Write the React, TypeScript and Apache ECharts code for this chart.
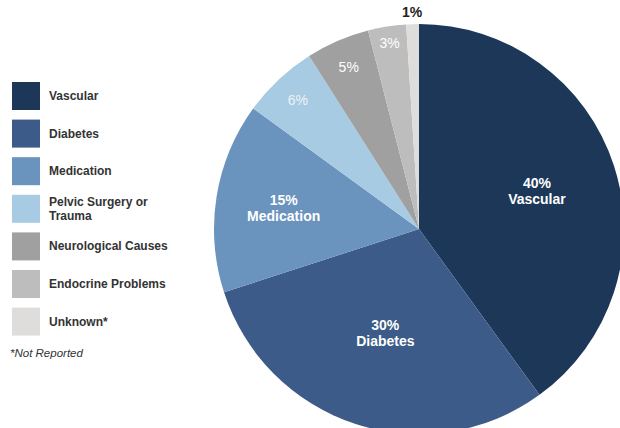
import React, { useEffect, useRef } from "react";
import * as echarts from "echarts";

const categories = [
  "Vascular",
  "Diabetes",
  "Medication",
  "Pelvic Surgery or\nTrauma",
  "Neurological Causes",
  "Endocrine Problems",
  "Unknown*",
];
const shortNames = ["Vascular", "Diabetes", "Medication", "", "", "", ""];
const values = [40, 30, 15, 6, 5, 3, 1];
const colors = ["#1d3759", "#3c5b88", "#6a93bd", "#a6cbe2", "#a0a0a0", "#bdbdbd", "#dedddb"];
const footnote = "*Not Reported";

const FONT = 'Arial, "Liberation Sans", Helvetica, sans-serif';
const CENTER = [419, 229];
const R = 205;

// label groups: which slices get labels at which radial distance (radius of invisible pie = 2x label distance)
const labelGroups = [
  { idx: [0], radius: 242, color: "#ffffff", weight: "bold", withName: true },
  { idx: [1], radius: 212, color: "#ffffff", weight: "bold", withName: true },
  { idx: [2], radius: 268, color: "#ffffff", weight: "bold", withName: true },
  { idx: [3], radius: 348, color: "#eef3f7", weight: "normal", withName: false },
  { idx: [4], radius: 348, color: "#ffffff", weight: "normal", withName: false },
  { idx: [5], radius: 370, color: "#ffffff", weight: "normal", withName: false },
  { idx: [6], radius: 428, color: "#222222", weight: "bold", withName: false },
];

export default function App() {
  const ref = useRef<HTMLDivElement>(null);
  useEffect(() => {
    if (!ref.current) return;
    const chart = echarts.init(ref.current, undefined, { renderer: "svg" });

    const mainData = categories.map((c, i) => ({
      name: c,
      value: values[i],
      itemStyle: { color: colors[i] },
    }));

    const labelSeries = labelGroups.map((g, gi) => ({
      type: "pie" as const,
      name: "labels" + gi,
      center: CENTER,
      radius: [0, g.radius],
      startAngle: 90,
      clockwise: true,
      silent: true,
      z: 5,
      legendHoverLink: false,
      labelLine: { show: false },
      itemStyle: { color: "rgba(0,0,0,0)", borderWidth: 0 },
      emphasis: { disabled: true },
      data: categories.map((c, i) => ({
        name: "lbl" + gi + "_" + i,
        value: values[i],
        label: {
          show: g.idx.includes(i),
          position: "inside",
          color: g.color,
          fontWeight: g.weight,
          fontSize: 14,
          lineHeight: 16,
          fontFamily: FONT,
          formatter: g.withName ? `${values[i]}%\n${shortNames[i]}` : `${values[i]}%`,
        },
      })),
    }));

    chart.setOption({
      animation: false,
      backgroundColor: "#ffffff",
      textStyle: { fontFamily: FONT },
      legend: {
        orient: "vertical",
        left: 12,
        top: 82,
        padding: 0,
        itemWidth: 28,
        itemHeight: 28,
        itemGap: 9.6,
        icon: "rect",
        selectedMode: false,
        data: categories,
        textStyle: {
          fontFamily: FONT,
          fontSize: 12,
          fontWeight: "bold",
          color: "#333333",
          lineHeight: 14,
          padding: [0, 0, 0, 4],
        },
      },
      graphic: [
        {
          type: "text",
          left: 10,
          top: 347,
          style: {
            text: footnote,
            fontFamily: FONT,
            fontSize: 11.5,
            fontStyle: "italic",
            fill: "#333333",
          },
        },
      ],
      series: [
        {
          type: "pie",
          name: "Causes",
          center: CENTER,
          radius: [0, R],
          startAngle: 90,
          clockwise: true,
          silent: true,
          label: { show: false },
          labelLine: { show: false },
          itemStyle: { borderWidth: 0 },
          data: mainData,
        },
        ...labelSeries,
      ],
    });
    return () => chart.dispose();
  }, []);
  return (
    <div
      ref={ref}
      style={{ position: "fixed", left: 0, top: 0, width: 620, height: 428 }}
    />
  );
}
